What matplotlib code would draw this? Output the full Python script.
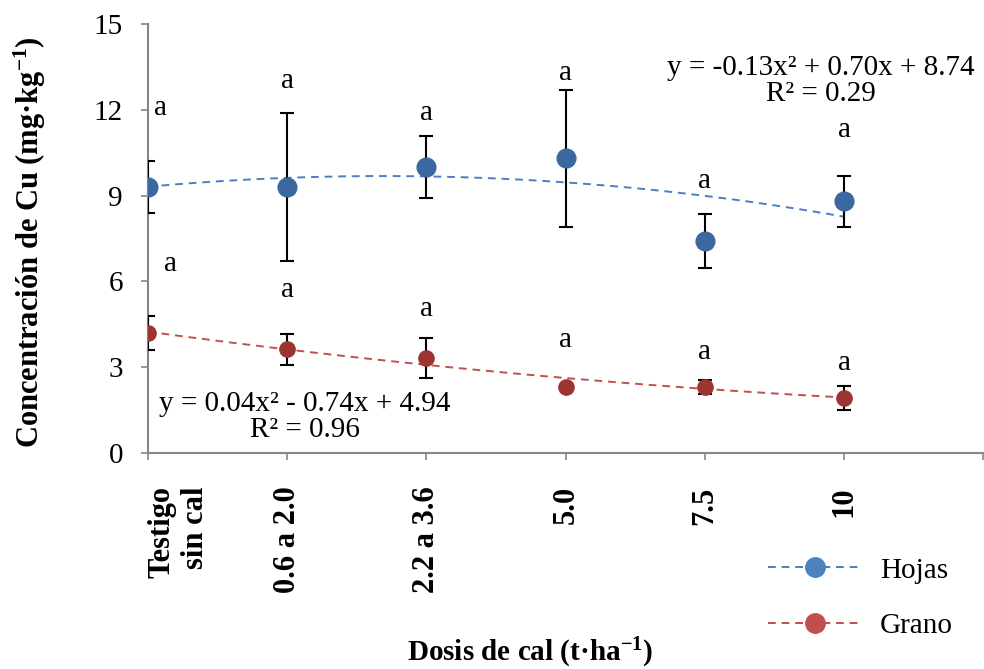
import numpy as np
import matplotlib.pyplot as plt

# categories (x positions 1..6 on a category axis)
categorias = ['Testigo\nsin cal', '0.6 a 2.0', '2.2 a 3.6', '5.0', '7.5', '10']
x = np.arange(1, len(categorias) + 1)

# Hojas (leaves)
hojas = [9.3, 9.3, 10.0, 10.3, 7.4, 8.8]
hojas_err = [0.9, 2.6, 1.08, 2.4, 0.95, 0.9]
coef_hojas = [-0.13, 0.70, 8.74]

# Grano (grain)
grano = [4.2, 3.62, 3.32, 2.31, 2.31, 1.92]
grano_err = [0.6, 0.54, 0.7, 0.05, 0.25, 0.43]
coef_grano = [0.04, -0.74, 4.94]

letras_hojas = ['a'] * 6
letras_grano = ['a'] * 6

plt.rcParams['font.family'] = ['Liberation Serif', 'DejaVu Serif']
plt.rcParams['mathtext.fontset'] = 'custom'
plt.rcParams['mathtext.rm'] = 'Liberation Serif'
plt.rcParams['mathtext.bf'] = 'Liberation Serif:bold'
plt.rcParams['mathtext.default'] = 'regular'

fs = 21

fig = plt.figure(figsize=(9.84, 6.69), dpi=100)
ax = fig.add_axes([0.1504, 0.3229, 0.849, 0.6413])

axis_gray = '#868686'
blue_mk = '#3C68A0'
red_mk = '#9E3431'
blue_ln = '#4A7EC5'
red_ln = '#C0504D'

# trend lines
xs = np.linspace(1, 6, 200)
ax.plot(xs, np.polyval(coef_hojas, xs), ls=(0, (4, 3)), color=blue_ln, lw=1.4, zorder=2)
ax.plot(xs, np.polyval(coef_grano, xs), ls=(0, (4, 3)), color=red_ln, lw=1.4, zorder=2)

# error bars + points
ax.errorbar(x, hojas, yerr=hojas_err, fmt='none', ecolor='black', elinewidth=1.5,
            capsize=5, capthick=1.5, zorder=3)
ax.errorbar(x, grano, yerr=grano_err, fmt='none', ecolor='black', elinewidth=1.5,
            capsize=5, capthick=1.5, zorder=3)
ax.plot(x, hojas, 'o', color=blue_mk, ms=13.5, zorder=4)
ax.plot(x, grano, 'o', color=red_mk, ms=11, zorder=4)

# letters of significance
pos_hojas = [(1.09, 12.05), (2.0, 13.0), (3.0, 11.9), (4.0, 13.3), (5.0, 9.5), (6.0, 11.3)]
pos_grano = [(1.16, 6.6), (2.0, 5.7), (3.0, 5.03), (4.0, 3.95), (5.0, 3.53), (6.0, 3.15)]
for (px, py), t in zip(pos_hojas, letras_hojas):
    ax.text(px, py, t, ha='center', va='center', fontsize=fs)
for (px, py), t in zip(pos_grano, letras_grano):
    ax.text(px, py, t, ha='center', va='center', fontsize=fs)

# equations
ax.text(5.83, 13.0, 'y = -0.13x² + 0.70x + 8.74\nR² = 0.29', ha='center', va='center',
        fontsize=fs, linespacing=1.0)
ax.text(2.125, 1.26, 'y = 0.04x² - 0.74x + 4.94\nR² = 0.96', ha='center', va='center',
        fontsize=fs, linespacing=1.0)

# legend (proxy handles)
hl, = ax.plot([], [], ls=(0, (4, 3)), color=blue_ln, lw=1.4, marker='o', ms=14,
              mfc='#4F81BD', mec='#4F81BD', label='Hojas')
gl, = ax.plot([], [], ls=(0, (4, 3)), color=red_ln, lw=1.4, marker='o', ms=14,
              mfc='#C0504D', mec='#C0504D', label='Grano')
fig.legend(handles=[hl, gl], loc='center left', bbox_to_anchor=(0.780, 0.106),
           frameon=False, fontsize=fs, handlelength=3.25, handletextpad=0.6,
           labelspacing=1.0, borderaxespad=0, borderpad=0)

ax.set_xlim(1, 7)
ax.set_ylim(0, 15)
ax.set_xticks(list(x) + [7])
ax.set_xticklabels(categorias + [''], rotation=90, fontsize=22, fontweight='bold',
                   va='top', ha='center', multialignment='right')
ax.get_xticklabels()[0].set_ha('left')
ax.set_yticks(np.arange(0, 16, 3))
ax.tick_params(axis='y', labelsize=fs, length=5, width=1.2, color=axis_gray, pad=13)
ax.tick_params(axis='x', length=5, width=1.2, color=axis_gray, pad=19)

for s in ['top', 'right']:
    ax.spines[s].set_visible(False)
for s in ['left', 'bottom']:
    ax.spines[s].set_color(axis_gray)
    ax.spines[s].set_linewidth(1.5)

fig.text(30 / 984, 1 - 242 / 669, r'Concentración de Cu (mg·kg$^{\mathbf{-1}}$)',
         rotation=90, ha='center', va='center', fontsize=22, fontweight='bold')
fig.text(530 / 984, 1 - 653 / 669, r'Dosis de cal (t·ha$^{\mathbf{-1}}$)',
         ha='center', va='center', fontsize=fs, fontweight='bold')

fig.savefig('out.png', dpi=100)
